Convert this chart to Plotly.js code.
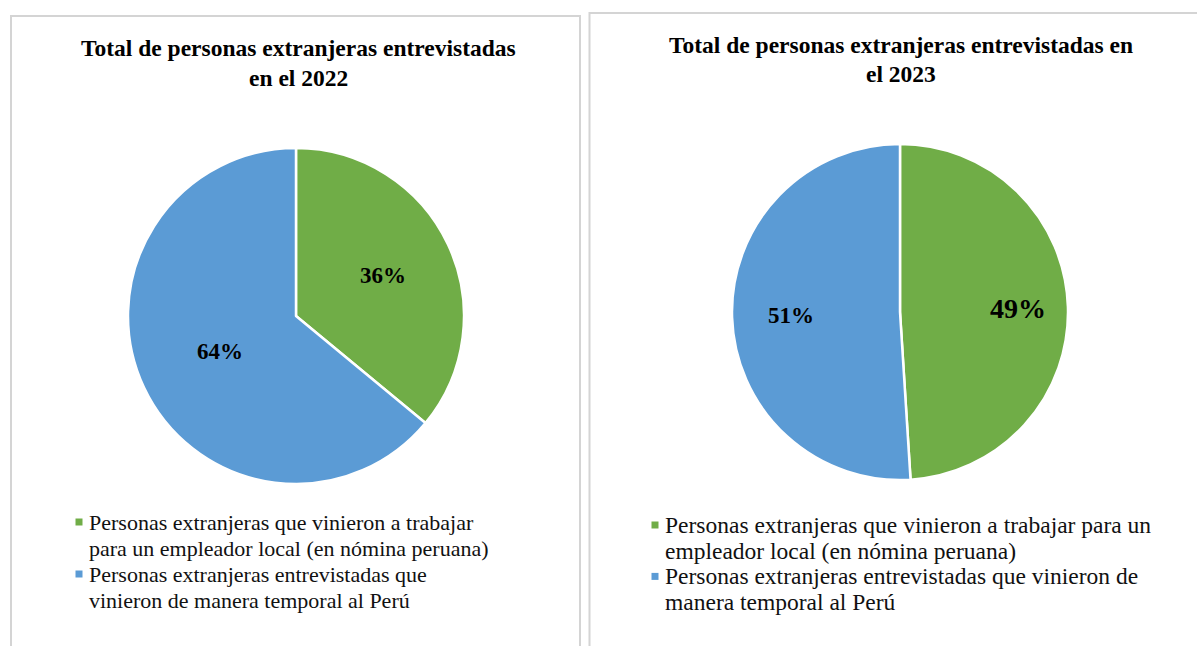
<!DOCTYPE html>
<html>
<head>
<meta charset="utf-8">
<script src="https://cdn.plot.ly/plotly-3.0.1.min.js"></script>
<style>html,body{margin:0;padding:0;background:#fff;}#chart{width:1197px;height:646px;}</style>
</head>
<body>
<div id="chart"></div>
<script>
// Data
const categories = [
  "Personas extranjeras que vinieron a trabajar para un empleador local (en nómina peruana)",
  "Personas extranjeras entrevistadas que vinieron de manera temporal al Perú"
];
const values2022 = [36, 64];
const values2023 = [49, 51];
const title2022 = ["Total de personas extranjeras entrevistadas", "en el 2022"];
const title2023 = ["Total de personas extranjeras entrevistadas en", "el 2023"];
const legendLines2022 = [
  ["Personas extranjeras que vinieron a trabajar", "para un empleador local (en nómina peruana)"],
  ["Personas extranjeras entrevistadas que", "vinieron de manera temporal al Perú"]
];
const legendLines2023 = [
  ["Personas extranjeras que vinieron a trabajar para un", "empleador local (en nómina peruana)"],
  ["Personas extranjeras entrevistadas que vinieron de", "manera temporal al Perú"]
];
const colors = ["#70AD47", "#5B9BD5"];

const W = 1197, H = 646;
const px = x => x / W;
const py = y => 1 - y / H;
const FONT = "Liberation Serif";

// pie boxes (pixels): [x0, x1, y0, y1]
const box2022 = [128, 464, 148, 484];
const box2023 = [732, 1068, 144, 480];

function pieTrace(vals, b) {
  return {
    type: "pie",
    labels: categories,
    values: vals,
    sort: false,
    direction: "clockwise",
    rotation: 0,
    marker: {colors: colors, line: {color: "#ffffff", width: 2.5}},
    textinfo: "none",
    hoverinfo: "label+percent",
    showlegend: false,
    domain: {x: [px(b[0]), px(b[1])], y: [py(b[3]), py(b[2])]}
  };
}

const data = [pieTrace(values2022, box2022), pieTrace(values2023, box2023)];

const annotations = [];
const shapes = [];

// percentage labels, placed at each slice's mid-angle
function addPctLabels(vals, b, radFrac, sizes) {
  const cx = (b[0] + b[1]) / 2, cy = (b[2] + b[3]) / 2, r = (b[1] - b[0]) / 2;
  const total = vals.reduce((a, c) => a + c, 0);
  let cum = 0;
  vals.forEach((v, i) => {
    const mid = (cum + v / 2) / total * 2 * Math.PI;
    cum += v;
    const x = cx + radFrac[i] * r * Math.sin(mid);
    const y = cy - radFrac[i] * r * Math.cos(mid);
    annotations.push({xref: "paper", yref: "paper", x: px(x), y: py(y),
      text: "<b>" + Math.round(v / total * 100) + "%</b>",
      showarrow: false, xanchor: "center", yanchor: "middle",
      font: {family: FONT, size: sizes[i], color: "#000"}});
  });
}
addPctLabels(values2022, box2022, [0.57, 0.5], [23, 23]);
addPctLabels(values2023, box2023, [0.7, 0.65], [28, 23]);

// panel borders
shapes.push({type: "rect", xref: "paper", yref: "paper", x0: px(11), x1: px(580), y0: py(700), y1: py(16),
  line: {color: "#d4d4d4", width: 2}, fillcolor: "rgba(0,0,0,0)"});
shapes.push({type: "rect", xref: "paper", yref: "paper", x0: px(589.5), x1: px(1220), y0: py(700), y1: py(13),
  line: {color: "#d4d4d4", width: 2}, fillcolor: "rgba(0,0,0,0)"});

// titles (one annotation per line)
function addTitle(lines, cx, y0, gap, size) {
  lines.forEach((t, i) => {
    annotations.push({xref: "paper", yref: "paper", x: px(cx), y: py(y0 + i * gap), text: "<b>" + t + "</b>",
      showarrow: false, xanchor: "center", yanchor: "middle",
      font: {family: FONT, size: size, color: "#000"}});
  });
}
addTitle(title2022, 298, 48, 30, 23.5);
addTitle(title2023, 901, 45, 29, 23.5);

// custom legends
function addLegend(items, markerX, textX, firstY, gap, size) {
  let k = 0;
  items.forEach((lines, i) => {
    const yFirst = firstY + k * gap;
    shapes.push({type: "rect", xref: "paper", yref: "paper",
      x0: px(markerX - 3.5), x1: px(markerX + 3.5), y0: py(yFirst + 3.5), y1: py(yFirst - 3.5),
      fillcolor: colors[i], line: {width: 0}});
    lines.forEach(t => {
      annotations.push({xref: "paper", yref: "paper", x: px(textX), y: py(firstY + k * gap), text: t,
        showarrow: false, xanchor: "left", yanchor: "middle", align: "left",
        font: {family: FONT, size: size, color: "#111"}});
      k++;
    });
  });
}
addLegend(legendLines2022, 79, 87, 522, 26, 22);
addLegend(legendLines2023, 655, 663, 525, 25.7, 23.5);

const layout = {
  width: W, height: H,
  margin: {l: 0, r: 0, t: 0, b: 0},
  paper_bgcolor: "#ffffff",
  plot_bgcolor: "#ffffff",
  showlegend: false,
  annotations: annotations,
  shapes: shapes
};

Plotly.newPlot("chart", data, layout, {displayModeBar: false, staticPlot: true});
</script>
</body>
</html>
